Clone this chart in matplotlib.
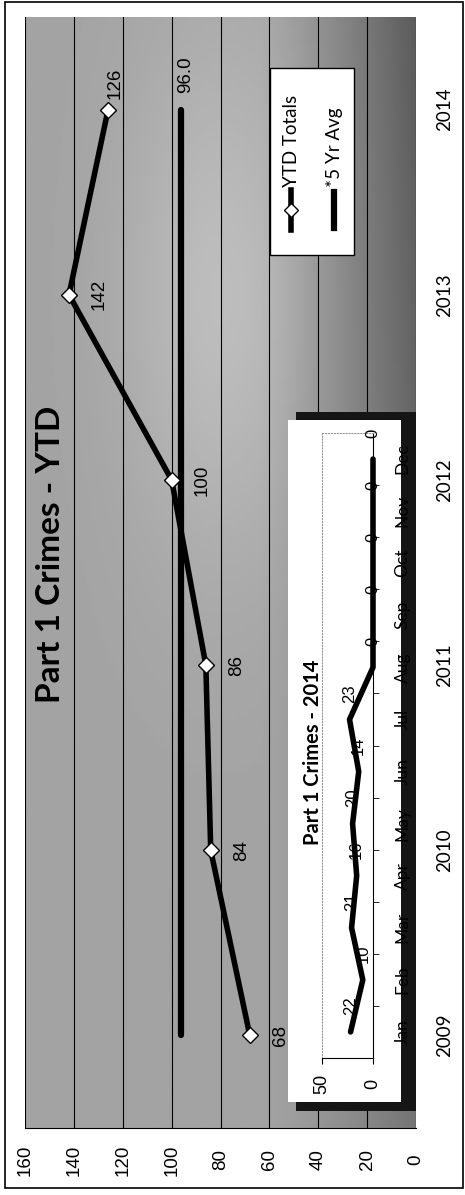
import numpy as np
import matplotlib
matplotlib.use("Agg")
import matplotlib.pyplot as plt
from matplotlib.patches import Rectangle
from matplotlib.lines import Line2D

# main chart data
years = ["2009", "2010", "2011", "2012", "2013", "2014"]
ytd_totals = [68, 84, 86, 100, 142, 126]
five_yr_avg = [96.0, 96.0, 96.0, 96.0, 96.0, 96.0]
value_ticks = [0, 20, 40, 60, 80, 100, 120, 140, 160]

# inset data
months = ["Jan", "Feb", "Mar", "Apr", "May", "Jun",
          "Jul", "Aug", "Sep", "Oct", "Nov", "Dec"]
monthly_2014 = [22, 10, 21, 16, 20, 14, 23, 0, 0, 0, 0, 0]

W, H = 465, 1195
TXT = "Lato"
NUM = "Liberation Sans"


def fx(px):
    return px / W


def fy(py):
    return 1 - py / H


def rect(x0, y0, x1, y1):
    """figure-fraction rect from pixel box (top-left origin)"""
    return [fx(x0), fy(y1), (x1 - x0) / W, (y1 - y0) / H]


fig = plt.figure(figsize=(W / 100, H / 100), dpi=100)
fig.patch.set_facecolor("white")

# outer chart border
fig.add_artist(Rectangle((fx(5), fy(1188)), (463 - 5) / W, (1188 - 2) / H,
                         transform=fig.transFigure, fill=False,
                         edgecolor="black", lw=1.2, zorder=0))

# ---- main chart (drawn rotated: values run right-to-left, years bottom-to-top)
ax = fig.add_axes(rect(25, 17, 416, 1128))
idx = np.arange(len(years))

# granite-ish background shading
n = 200
u = np.linspace(0, 1, n)[None, :]
v = np.linspace(1, 0, n)[:, None]
dark = np.clip((u - 0.6) / 0.4, 0, 1) ** 1.3
shade = (0.64 + 0.10 * np.exp(-((u - 0.5) ** 2 / 0.06 + (v - 0.75) ** 2 / 0.06))
         - 0.28 * dark * (0.65 + 0.35 * v))
ax.imshow(shade, extent=(160, 0, -0.5, 5.5), aspect="auto", cmap="gray",
          vmin=0, vmax=1, zorder=0, interpolation="bilinear")

ax.plot(five_yr_avg, idx, color="black", lw=4.5, solid_capstyle="round", zorder=3)
ax.plot(ytd_totals, idx, color="black", lw=4, marker="D", ms=8,
        mfc="white", mec="black", mew=1, zorder=4)

ax.set_xlim(160, 0)
ax.set_ylim(-0.5, 5.5)
ax.set_xticks(value_ticks)
ax.set_xticklabels([str(t) for t in value_ticks], rotation=90, va="center",
                   fontfamily=NUM, fontsize=13.5)
ax.tick_params(axis="x", length=0, pad=23)
ax.set_yticks(idx)
ax.set_yticklabels(years, rotation=90, va="center", fontfamily=TXT, fontsize=13.5)
ax.tick_params(axis="y", left=False, right=False, labelleft=False,
               labelright=True, pad=11)
ax.grid(axis="x", color="black", lw=0.8, zorder=1)
ax.set_axisbelow(False)
for s in ["top", "left", "right"]:
    ax.spines[s].set_visible(False)
ax.spines["bottom"].set_linewidth(0.8)

# data labels
for i, val in enumerate(ytd_totals):
    if i == len(ytd_totals) - 1:
        off = (5, 19)
    else:
        off = (22, 0)
    ax.annotate(str(val), (val, i), xytext=off, textcoords="offset points",
                rotation=90, ha="center", va="center", fontfamily=NUM,
                fontsize=13.5, zorder=5)
ax.annotate(f"{five_yr_avg[-1]:.1f}", (five_yr_avg[-1], idx[-1]), xytext=(3, 25),
            textcoords="offset points", rotation=90, ha="center", va="center",
            fontfamily=NUM, fontsize=13.5, zorder=5)

fig.text(fx(50), fy(554), "Part 1 Crimes - YTD", rotation=90, ha="center",
         va="center", fontfamily=TXT, fontweight="bold", fontsize=24)

# legend (manual, rotated)
fig.add_artist(Rectangle((fx(270), fy(255)), 84 / W, 187 / H,
                         transform=fig.transFigure, facecolor="white",
                         edgecolor="black", lw=1, zorder=3))
fig.add_artist(Line2D([fx(291), fx(291)], [fy(230), fy(190)],
                      transform=fig.transFigure, color="black", lw=4, zorder=4))
fig.add_artist(Line2D([fx(291)], [fy(210)], transform=fig.transFigure,
                      marker="D", ms=7, mfc="white", mec="black", zorder=5))
fig.text(fx(291), fy(187), "YTD Totals", rotation=90, ha="center", va="bottom",
         fontfamily=TXT, fontsize=13.5, zorder=5)
fig.add_artist(Line2D([fx(334), fx(334)], [fy(228), fy(192)],
                      transform=fig.transFigure, color="black", lw=4.5, zorder=4))
fig.text(fx(334), fy(187), "*5 Yr Avg", rotation=90, ha="center", va="bottom",
         fontfamily=TXT, fontsize=13.5, zorder=5)

# ---- inset chart box with shadow
fig.add_artist(Rectangle((fx(296), fy(1111)), (416 - 296) / W, (1111 - 412) / H,
                         transform=fig.transFigure, facecolor="#151515",
                         edgecolor="none", zorder=1))
fig.add_artist(Rectangle((fx(288), fy(1102)), (401 - 288) / W, (1102 - 420) / H,
                         transform=fig.transFigure, facecolor="white",
                         edgecolor="none", zorder=1.1))

ax2 = fig.add_axes(rect(322, 433, 373, 1058))
ax2.set_zorder(2)
midx = np.arange(len(months))
ax2.plot(monthly_2014, midx, color="black", lw=4, solid_capstyle="round",
         clip_on=False, zorder=3)
for i, val in enumerate(monthly_2014):
    ax2.annotate(str(val), (val, i + 0.5), rotation=90, ha="center", va="center",
                 fontfamily=NUM, fontsize=12, zorder=4, annotation_clip=False)
ax2.set_xlim(50, 0)
ax2.set_ylim(-0.5, 11.5)
ax2.set_xticks([0, 50])
ax2.set_xticklabels(["0", "50"], rotation=90, va="center", fontfamily=NUM,
                    fontsize=13)
ax2.tick_params(axis="x", direction="out", length=4, pad=15)
ax2.set_yticks(midx)
ax2.set_yticklabels(months, rotation=90, va="center", fontfamily=TXT, fontsize=12.5)
ax2.set_yticks(midx[:-1] + 0.5, minor=True)
ax2.tick_params(axis="y", which="major", left=False, right=False,
                labelleft=False, labelright=True, pad=12)
ax2.tick_params(axis="y", which="minor", left=False, right=True,
                direction="out", length=4)
ax2.spines["right"].set_color("black")
ax2.spines["bottom"].set_color("black")
for s in ["top", "left"]:
    ax2.spines[s].set_linestyle(":")
    ax2.spines[s].set_color("#999999")
    ax2.spines[s].set_linewidth(0.8)

fig.text(fx(313), fy(752), "Part 1 Crimes - 2014", rotation=90, ha="center",
         va="center", fontfamily=TXT, fontweight="bold", fontsize=14.5, zorder=3)

fig.savefig("out.png", dpi=100)
